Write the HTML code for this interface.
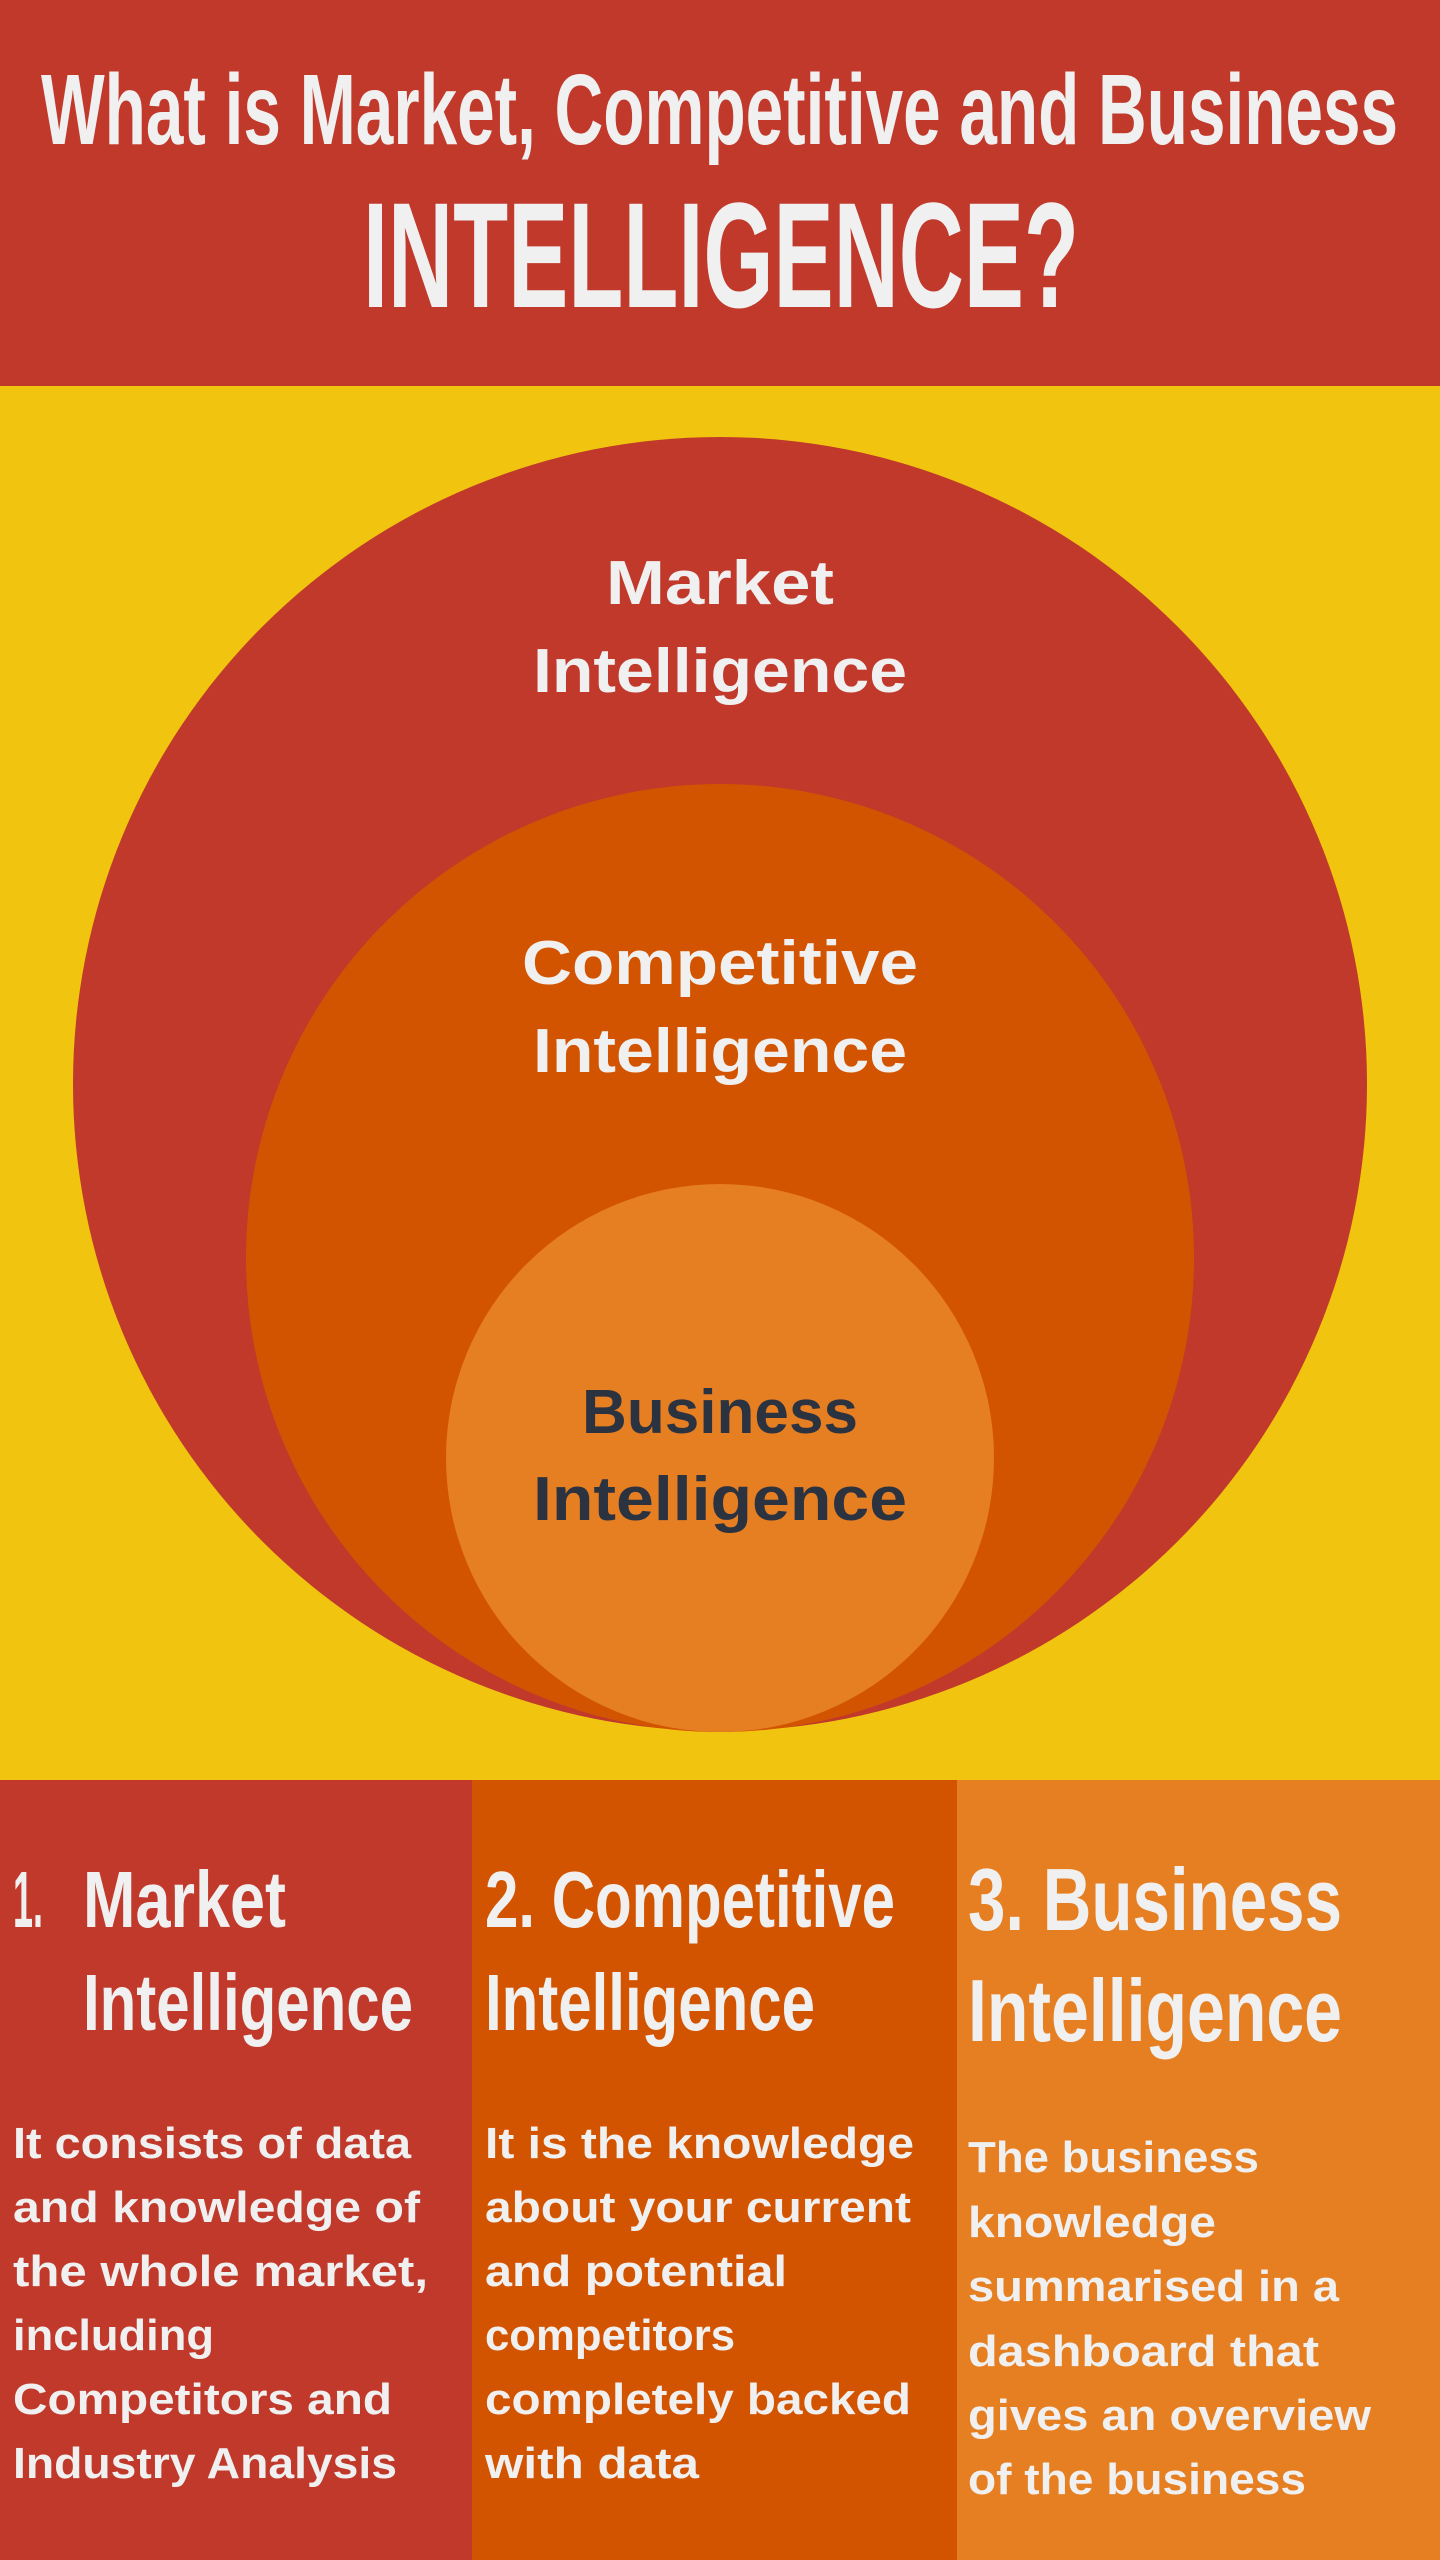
<!DOCTYPE html>
<html><head><meta charset="utf-8">
<style>
html,body{margin:0;padding:0;background:#F1C40F;}
svg{display:block;}
.c{font-family:"Liberation Sans Narrow","Liberation Sans",sans-serif;font-weight:bold;fill:#F0F0F0;}
.b{font-family:"Liberation Sans",sans-serif;font-weight:bold;fill:#F0F0F0;}
</style></head>
<body>
<svg width="1440" height="2560" viewBox="0 0 1440 2560" xmlns="http://www.w3.org/2000/svg">
<rect x="0" y="0" width="1440" height="386" fill="#C0392B"/>
<rect x="0" y="386" width="1440" height="1394" fill="#F1C40F"/>
<text class="c" x="41" y="144" font-size="100" textLength="1357" lengthAdjust="spacingAndGlyphs">What is Market, Competitive and Business</text>
<text class="c" x="363" y="307" font-size="150" textLength="716" lengthAdjust="spacingAndGlyphs">INTELLIGENCE?</text>

<circle cx="720" cy="1084" r="647" fill="#C0392B"/>
<circle cx="720" cy="1258" r="474" fill="#D35400"/>
<circle cx="720" cy="1458" r="274" fill="#E67E22"/>

<text class="b" x="720" y="604" font-size="62" text-anchor="middle" textLength="228" lengthAdjust="spacingAndGlyphs">Market</text>
<text class="b" x="720" y="692" font-size="62" text-anchor="middle" textLength="374" lengthAdjust="spacingAndGlyphs">Intelligence</text>
<text class="b" x="720" y="984" font-size="62" text-anchor="middle" textLength="396" lengthAdjust="spacingAndGlyphs">Competitive</text>
<text class="b" x="720" y="1072" font-size="62" text-anchor="middle" textLength="374" lengthAdjust="spacingAndGlyphs">Intelligence</text>
<text class="b" x="720" y="1433" font-size="62" text-anchor="middle" textLength="276" lengthAdjust="spacingAndGlyphs" style="fill:#2C3340">Business</text>
<text class="b" x="720" y="1520" font-size="62" text-anchor="middle" textLength="374" lengthAdjust="spacingAndGlyphs" style="fill:#2C3340">Intelligence</text>

<rect x="0" y="1780" width="472" height="780" fill="#C0392B"/>
<rect x="472" y="1780" width="485" height="780" fill="#D35400"/>
<rect x="957" y="1780" width="483" height="780" fill="#E67E22"/>

<text class="c" x="13" y="1927" font-size="80" textLength="30" lengthAdjust="spacingAndGlyphs">1.</text>
<text class="c" x="83" y="1927" font-size="80" textLength="203" lengthAdjust="spacingAndGlyphs">Market</text>
<text class="c" x="83" y="2030" font-size="80" textLength="330" lengthAdjust="spacingAndGlyphs">Intelligence</text>
<text class="c" x="485" y="1927" font-size="80" textLength="410" lengthAdjust="spacingAndGlyphs">2. Competitive</text>
<text class="c" x="485" y="2030" font-size="80" textLength="330" lengthAdjust="spacingAndGlyphs">Intelligence</text>
<text class="c" x="968" y="1930" font-size="88" textLength="374" lengthAdjust="spacingAndGlyphs">3. Business</text>
<text class="c" x="968" y="2041" font-size="88" textLength="374" lengthAdjust="spacingAndGlyphs">Intelligence</text>

<g class="b" font-size="44">
<text x="13" y="2158" textLength="398" lengthAdjust="spacingAndGlyphs">It consists of data</text>
<text x="13" y="2222" textLength="407" lengthAdjust="spacingAndGlyphs">and knowledge of</text>
<text x="13" y="2286" textLength="415" lengthAdjust="spacingAndGlyphs">the whole market,</text>
<text x="13" y="2350" textLength="201" lengthAdjust="spacingAndGlyphs">including</text>
<text x="13" y="2414" textLength="379" lengthAdjust="spacingAndGlyphs">Competitors and</text>
<text x="13" y="2478" textLength="384" lengthAdjust="spacingAndGlyphs">Industry Analysis</text>

<text x="485" y="2158" textLength="429" lengthAdjust="spacingAndGlyphs">It is the knowledge</text>
<text x="485" y="2222" textLength="426" lengthAdjust="spacingAndGlyphs">about your current</text>
<text x="485" y="2286" textLength="302" lengthAdjust="spacingAndGlyphs">and potential</text>
<text x="485" y="2350" textLength="250" lengthAdjust="spacingAndGlyphs">competitors</text>
<text x="485" y="2414" textLength="426" lengthAdjust="spacingAndGlyphs">completely backed</text>
<text x="485" y="2478" textLength="214" lengthAdjust="spacingAndGlyphs">with data</text>

<text x="968" y="2172" textLength="291" lengthAdjust="spacingAndGlyphs">The business</text>
<text x="968" y="2237" textLength="248" lengthAdjust="spacingAndGlyphs">knowledge</text>
<text x="968" y="2301" textLength="371" lengthAdjust="spacingAndGlyphs">summarised in a</text>
<text x="968" y="2366" textLength="351" lengthAdjust="spacingAndGlyphs">dashboard that</text>
<text x="968" y="2430" textLength="403" lengthAdjust="spacingAndGlyphs">gives an overview</text>
<text x="968" y="2494" textLength="338" lengthAdjust="spacingAndGlyphs">of the business</text>
</g>
</svg>
</body></html>
